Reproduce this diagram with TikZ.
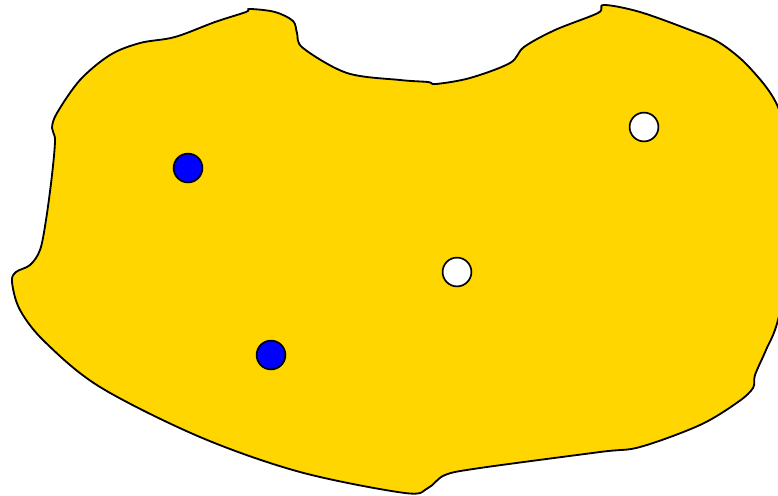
\documentclass[tikz,border=0pt]{standalone}
\definecolor{blobyellow}{RGB}{255,214,0}
\tikzset{
    blob/.style={draw=black,line width=1.3pt,fill=blobyellow},
    dot/.style={circle,draw=black,line width=1.2pt,inner sep=0pt,minimum size=0.72cm},
    bluedot/.style={dot,fill=blue},
    whitedot/.style={dot,fill=white}
}
\begin{document}
\begin{tikzpicture}[x=0.025cm,y=-0.025cm]
    % Frame
        \clip (0,0) rectangle (778,495);
    % Region
        \draw[blob] plot[smooth cycle,tension=0.55] coordinates {
            (250,9) (275,12) (293,21) (297,33) (303,48) (347,73) (400,80)
            (428,82) (436,84) (470,78) (510,63) (524,47) (555,30) (598,13)
            (604,5) (640,12) (690,30) (720,43) (750,68) (778,107) (793,170)
            (795,240) (778,320) (766,350) (755,375) (753,388) (738,402)
            (700,425) (640,447) (600,452) (480,468) (445,475) (428,488)
            (405,493) (300,472) (200,437) (100,387) (45,342) (20,310)
            (12,282) (16,272) (30,265) (40,250) (46,220)
            (52,175) (55,140) (52,128) (57,113) (80,80) (110,55) (140,43)
            (175,37) (215,22) (246,12)};
    % Points
        \node[bluedot] (blue1) at (188,168) {};
        \node[bluedot] (blue2) at (271,355) {};
        \node[whitedot] (white1) at (644,127) {};
        \node[whitedot] (white2) at (457,272) {};
\end{tikzpicture}
\end{document}
